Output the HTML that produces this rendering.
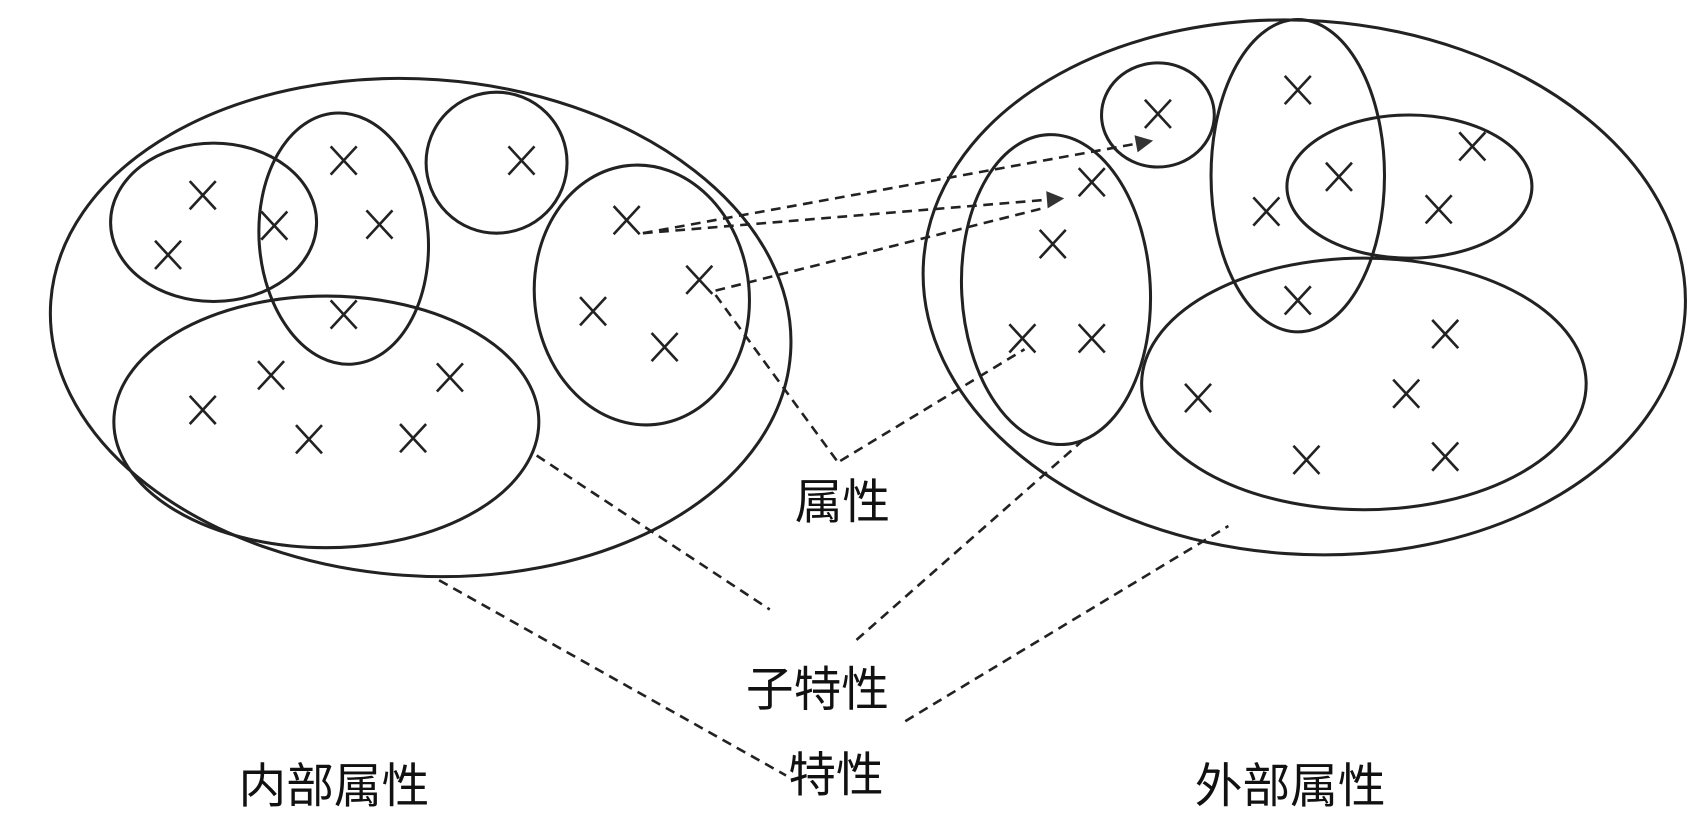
<!DOCTYPE html>
<html><head><meta charset="utf-8"><style>html,body{margin:0;padding:0;background:#fff;}svg{display:block}</style></head><body>
<svg width="1700" height="821" viewBox="0 0 1568 757" preserveAspectRatio="none" xmlns="http://www.w3.org/2000/svg">
<defs>
<marker id="ah2" viewBox="0 0 10 10" refX="9" refY="5" markerWidth="36" markerHeight="16" orient="auto" markerUnits="userSpaceOnUse"><path d="M0,0 L10,5 L0,10 z" fill="#333"/></marker>
</defs>
<g fill="none" stroke="#222" stroke-width="2.8">
<ellipse cx="388" cy="302" rx="342" ry="229" transform="rotate(4 388 302)"/>
<ellipse cx="197" cy="205" rx="95" ry="73"/>
<ellipse cx="317" cy="220" rx="78" ry="116" transform="rotate(-4 317 220)"/>
<ellipse cx="458" cy="150" rx="65" ry="65"/>
<ellipse cx="592" cy="272" rx="99" ry="120" transform="rotate(-6 592 272)"/>
<ellipse cx="301" cy="389" rx="196" ry="116"/>
<ellipse cx="1203" cy="265" rx="352" ry="246" transform="rotate(4 1203 265)"/>
<ellipse cx="1068" cy="106" rx="52" ry="48"/>
<ellipse cx="1197" cy="162" rx="80" ry="144"/>
<ellipse cx="1300" cy="172" rx="113" ry="66"/>
<ellipse cx="974" cy="267" rx="87" ry="143" transform="rotate(-3 974 267)"/>
<ellipse cx="1258" cy="354" rx="205" ry="116"/>
</g>
<g stroke="#222" stroke-width="2.4">
<path d="M-12,-13 L12,13 M12,-13 L-12,13" transform="translate(187,180)"/>
<path d="M-12,-13 L12,13 M12,-13 L-12,13" transform="translate(155,235)"/>
<path d="M-12,-13 L12,13 M12,-13 L-12,13" transform="translate(253,208)"/>
<path d="M-12,-13 L12,13 M12,-13 L-12,13" transform="translate(317,148)"/>
<path d="M-12,-13 L12,13 M12,-13 L-12,13" transform="translate(350,207)"/>
<path d="M-12,-13 L12,13 M12,-13 L-12,13" transform="translate(481,148)"/>
<path d="M-12,-13 L12,13 M12,-13 L-12,13" transform="translate(317,290)"/>
<path d="M-12,-13 L12,13 M12,-13 L-12,13" transform="translate(578,203)"/>
<path d="M-12,-13 L12,13 M12,-13 L-12,13" transform="translate(645,258)"/>
<path d="M-12,-13 L12,13 M12,-13 L-12,13" transform="translate(547,287)"/>
<path d="M-12,-13 L12,13 M12,-13 L-12,13" transform="translate(613,320)"/>
<path d="M-12,-13 L12,13 M12,-13 L-12,13" transform="translate(250,346)"/>
<path d="M-12,-13 L12,13 M12,-13 L-12,13" transform="translate(415,348)"/>
<path d="M-12,-13 L12,13 M12,-13 L-12,13" transform="translate(187,378)"/>
<path d="M-12,-13 L12,13 M12,-13 L-12,13" transform="translate(285,405)"/>
<path d="M-12,-13 L12,13 M12,-13 L-12,13" transform="translate(381,404)"/>
<path d="M-12,-13 L12,13 M12,-13 L-12,13" transform="translate(1197,83)"/>
<path d="M-12,-13 L12,13 M12,-13 L-12,13" transform="translate(1068,105)"/>
<path d="M-12,-13 L12,13 M12,-13 L-12,13" transform="translate(1358,135)"/>
<path d="M-12,-13 L12,13 M12,-13 L-12,13" transform="translate(1235,163)"/>
<path d="M-12,-13 L12,13 M12,-13 L-12,13" transform="translate(1168,195)"/>
<path d="M-12,-13 L12,13 M12,-13 L-12,13" transform="translate(1327,193)"/>
<path d="M-12,-13 L12,13 M12,-13 L-12,13" transform="translate(1007,168)"/>
<path d="M-12,-13 L12,13 M12,-13 L-12,13" transform="translate(971,225)"/>
<path d="M-12,-13 L12,13 M12,-13 L-12,13" transform="translate(1197,277)"/>
<path d="M-12,-13 L12,13 M12,-13 L-12,13" transform="translate(1333,308)"/>
<path d="M-12,-13 L12,13 M12,-13 L-12,13" transform="translate(943,312)"/>
<path d="M-12,-13 L12,13 M12,-13 L-12,13" transform="translate(1007,312)"/>
<path d="M-12,-13 L12,13 M12,-13 L-12,13" transform="translate(1105,367)"/>
<path d="M-12,-13 L12,13 M12,-13 L-12,13" transform="translate(1297,363)"/>
<path d="M-12,-13 L12,13 M12,-13 L-12,13" transform="translate(1205,424)"/>
<path d="M-12,-13 L12,13 M12,-13 L-12,13" transform="translate(1333,421)"/>
</g>
<g fill="none" stroke="#222" stroke-width="2.4" stroke-dasharray="9,6">
<path d="M593,215 L1062,130" marker-end="url(#ah2)"/>
<path d="M593,215 L980,183" marker-end="url(#ah2)"/>
<path d="M660,268 L962,192"/>
<path d="M660,272 L772,425"/>
<path d="M775,425 L945,322"/>
<path d="M495,420 L710,562"/>
<path d="M405,535 L725,715"/>
<path d="M790,590 L1000,405"/>
<path d="M835,665 L1133,485"/>
</g>
<g font-family="'Liberation Sans','Noto Sans CJK SC',sans-serif" font-size="44" fill="#111">
<text x="733" y="478">属性</text>
<text x="688" y="651">子特性</text>
<text x="727" y="730">特性</text>
<text x="220" y="740">内部属性</text>
<text x="1102" y="740">外部属性</text>
</g>
</svg>
</body></html>
